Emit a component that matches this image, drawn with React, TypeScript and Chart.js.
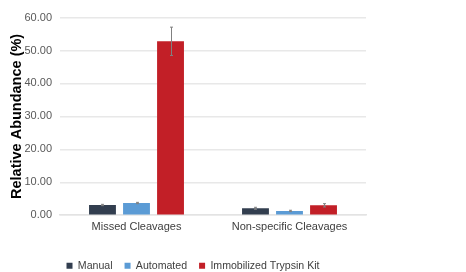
import React, { useEffect, useRef } from "react";
import { Chart, registerables } from "chart.js";

Chart.register(...registerables);

const categories = ["Missed Cleavages", "Non-specific Cleavages"];
const seriesNames = ["Manual", "Automated", "Immobilized Trypsin Kit"];
const manualValues = [3.1, 2.1];
const manualErrors = [0.2, 0.3];
const automatedValues = [3.7, 1.3];
const automatedErrors = [0.2, 0.2];
const kitValues = [52.8, 3.0];
const kitErrors = [4.3, 0.5];
const seriesColors = ["#323E4F", "#5B9BD5", "#C21F27"];

const FONT = "'Liberation Sans', Arial, sans-serif";

const errorBarPlugin = {
  id: "errorBars",
  afterDatasetsDraw(chart: any) {
    const ctx = chart.ctx;
    const yScale = chart.scales.y;
    ctx.save();
    ctx.strokeStyle = "#808080";
    ctx.lineWidth = 1;
    chart.data.datasets.forEach((ds: any, di: number) => {
      const meta = chart.getDatasetMeta(di);
      meta.data.forEach((bar: any, i: number) => {
        const v = ds.data[i];
        const e = ds.errors[i];
        const top = yScale.getPixelForValue(v + e);
        const bot = yScale.getPixelForValue(v - e);
        const x = Math.round(bar.x) + 0.5;
        ctx.beginPath();
        ctx.moveTo(x, top);
        ctx.lineTo(x, bot);
        ctx.moveTo(x - 1.5, top);
        ctx.lineTo(x + 1.5, top);
        ctx.moveTo(x - 1.5, bot);
        ctx.lineTo(x + 1.5, bot);
        ctx.stroke();
      });
    });
    ctx.restore();
  },
};

const legendShiftPlugin = {
  id: "legendShift",
  afterLayout(chart: any) {
    const lg = chart.legend;
    if (!lg) return;
    const dx = 6;
    lg.left += dx;
    lg.right += dx;
    if (lg.legendHitBoxes) {
      lg.legendHitBoxes.forEach((h: any) => {
        h.left += dx;
      });
    }
  },
};

export default function App() {
  const ref = useRef<HTMLCanvasElement>(null);
  useEffect(() => {
    const chart = new Chart(ref.current!, {
      type: "bar",
      data: {
        labels: categories,
        datasets: [
          { label: seriesNames[0], data: manualValues, errors: manualErrors, backgroundColor: seriesColors[0] } as any,
          { label: seriesNames[1], data: automatedValues, errors: automatedErrors, backgroundColor: seriesColors[1] } as any,
          { label: seriesNames[2], data: kitValues, errors: kitErrors, backgroundColor: seriesColors[2] } as any,
        ],
      },
      options: {
        animation: false,
        responsive: true,
        maintainAspectRatio: false,
        datasets: { bar: { categoryPercentage: 0.667, barPercentage: 0.79 } },
        layout: { padding: { top: 0, right: 92, left: 0, bottom: 0 } },
        plugins: {
          tooltip: { enabled: false },
          legend: {
            position: "bottom",
            labels: {
              boxWidth: 6,
              boxHeight: 6,
              padding: 12,
              color: "#404040",
              font: { family: FONT, size: 10.6 },
            },
          },
        },
        scales: {
          x: {
            grid: { display: false },
            border: { display: true, color: "#E3E3E3", width: 1.5 },
            ticks: { color: "#404040", font: { family: FONT, size: 11 }, padding: -3 },
            afterFit: (scale: any) => {
              scale.height += 18;
            },
          } as any,
          y: {
            min: 0,
            max: 60,
            afterFit: (scale: any) => {
              scale.width = 52;
            },
            ticks: {
              stepSize: 10,
              color: "#595959",
              padding: 8,
              font: { family: FONT, size: 11 },
              callback: (v: any) => Number(v).toFixed(2),
            },
            grid: { color: "#E8E8E8", lineWidth: 1.5, drawTicks: false },
            border: { display: false },
            title: {
              display: true,
              text: "Relative Abundance (%)",
              color: "#000000",
              padding: { top: 0, bottom: 0 },
              font: { family: FONT, size: 14.5, weight: "bold" },
            },
          } as any,
        },
      },
      plugins: [errorBarPlugin, legendShiftPlugin],
    } as any);
    return () => chart.destroy();
  }, []);
  return (
    <div style={{ width: 450, height: 278, marginTop: -5, position: "relative" }}>
      <canvas ref={ref} />
    </div>
  );
}
